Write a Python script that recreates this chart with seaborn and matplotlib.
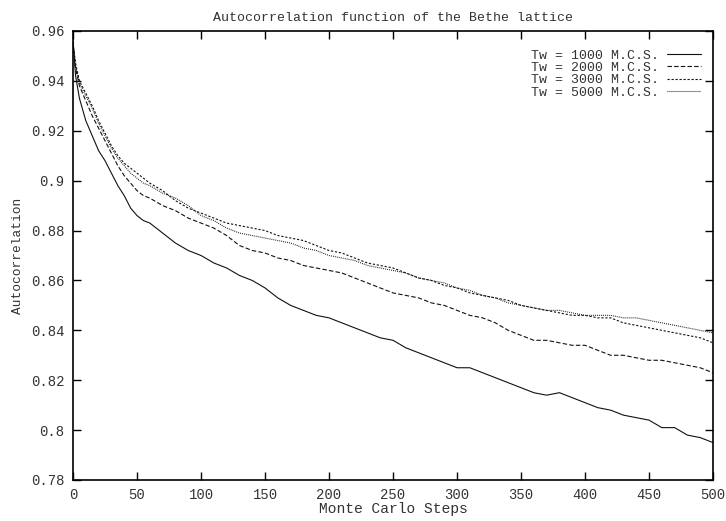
import matplotlib
matplotlib.use("Agg")
import matplotlib.pyplot as plt
import seaborn as sns
import pandas as pd
from matplotlib.ticker import FuncFormatter

steps = [0, 2, 5, 10, 15, 20, 25, 30, 35, 40, 45, 50, 55, 60, 70, 80, 90,
         100, 110, 120, 130, 140, 150, 160, 170, 180, 190, 200, 210, 220,
         230, 240, 250, 260, 270, 280, 290, 300, 310, 320, 330, 340, 350,
         360, 370, 380, 390, 400, 410, 420, 430, 440, 450, 460, 470, 480,
         490, 500]

tw1000 = [0.956, 0.942, 0.933, 0.924, 0.918, 0.912, 0.908, 0.903, 0.898,
          0.894, 0.889, 0.886, 0.884, 0.883, 0.879, 0.875, 0.872, 0.870,
          0.867, 0.865, 0.862, 0.860, 0.857, 0.853, 0.850, 0.848, 0.846,
          0.845, 0.843, 0.841, 0.839, 0.837, 0.836, 0.833, 0.831, 0.829,
          0.827, 0.825, 0.825, 0.823, 0.821, 0.819, 0.817, 0.815, 0.814,
          0.815, 0.813, 0.811, 0.809, 0.808, 0.806, 0.805, 0.804, 0.801,
          0.801, 0.798, 0.797, 0.795]

tw2000 = [0.955, 0.945, 0.938, 0.932, 0.926, 0.921, 0.916, 0.911, 0.906,
          0.902, 0.899, 0.896, 0.894, 0.893, 0.890, 0.888, 0.885, 0.883,
          0.881, 0.878, 0.874, 0.872, 0.871, 0.869, 0.868, 0.866, 0.865,
          0.864, 0.863, 0.861, 0.859, 0.857, 0.855, 0.854, 0.853, 0.851,
          0.850, 0.848, 0.846, 0.845, 0.843, 0.840, 0.838, 0.836, 0.836,
          0.835, 0.834, 0.834, 0.832, 0.830, 0.830, 0.829, 0.828, 0.828,
          0.827, 0.826, 0.825, 0.823]

tw3000 = [0.955, 0.947, 0.940, 0.935, 0.930, 0.924, 0.919, 0.914, 0.910,
          0.907, 0.905, 0.903, 0.901, 0.899, 0.896, 0.892, 0.889, 0.887,
          0.885, 0.883, 0.882, 0.881, 0.880, 0.878, 0.877, 0.876, 0.874,
          0.872, 0.871, 0.869, 0.867, 0.866, 0.865, 0.863, 0.861, 0.860,
          0.858, 0.857, 0.855, 0.854, 0.853, 0.852, 0.850, 0.849, 0.848,
          0.847, 0.846, 0.846, 0.845, 0.845, 0.843, 0.842, 0.841, 0.840,
          0.839, 0.838, 0.837, 0.835]

tw5000 = [0.955, 0.946, 0.939, 0.934, 0.929, 0.923, 0.918, 0.913, 0.909,
          0.906, 0.903, 0.901, 0.899, 0.898, 0.895, 0.893, 0.890, 0.886,
          0.884, 0.881, 0.879, 0.878, 0.877, 0.876, 0.875, 0.873, 0.872,
          0.870, 0.869, 0.868, 0.866, 0.865, 0.864, 0.863, 0.861, 0.860,
          0.859, 0.857, 0.856, 0.854, 0.853, 0.851, 0.850, 0.849, 0.848,
          0.848, 0.847, 0.846, 0.846, 0.846, 0.845, 0.845, 0.844, 0.843,
          0.842, 0.841, 0.840, 0.839]

labels = ["Tw = 1000 M.C.S.", "Tw = 2000 M.C.S.",
          "Tw = 3000 M.C.S.", "Tw = 5000 M.C.S."]
series = [tw1000, tw2000, tw3000, tw5000]
xticks = [0, 50, 100, 150, 200, 250, 300, 350, 400, 450, 500]
yticks = [0.78, 0.8, 0.82, 0.84, 0.86, 0.88, 0.9, 0.92, 0.94, 0.96]

sns.set_style("ticks")
plt.rcParams['font.family'] = ['Liberation Mono', 'DejaVu Sans Mono']
TXT = '#333333'

fig = plt.figure(figsize=(7.26, 5.21), dpi=100)
ax = fig.add_axes([0.1006, 0.0787, 0.8815, 0.8618])

styles = ['-', (0, (4, 2)), (0, (2, 1.6)), (0, (0.8, 1.0))]
for lab, vals, ls in zip(labels, series, styles):
    df = pd.DataFrame({"step": steps, "value": vals})
    sns.lineplot(data=df, x="step", y="value", ax=ax, color="#111111",
                 linewidth=0.8, linestyle=ls, label=lab)

ax.set_xlim(0, 500)
ax.set_ylim(0.78, 0.96)
ax.set_xticks(xticks)
ax.set_yticks(yticks)
ax.yaxis.set_major_formatter(FuncFormatter(lambda v, p: ('%g' % round(v, 4))))
ax.tick_params(direction='in', length=6, width=1, top=True, right=True,
               labelsize=10, colors='black', labelcolor=TXT, pad=6)
for s in ax.spines.values():
    s.set_linewidth(1.2)
    s.set_color('black')

ax.set_title("Autocorrelation function of the Bethe lattice", fontsize=9.5,
             pad=7, color=TXT)
ax.set_xlabel("Monte Carlo Steps", fontsize=10.5, labelpad=0, color=TXT)
ax.set_ylabel("Autocorrelation", fontsize=9.3, labelpad=5, color=TXT)

leg = ax.legend(loc='upper right', bbox_to_anchor=(1.0, 0.985),
                frameon=False, markerfirst=False,
                fontsize=9.5, labelspacing=0.0, handlelength=2.6,
                handletextpad=0.6, borderaxespad=0.5)
for t in leg.get_texts():
    t.set_color(TXT)

fig.savefig("out.png", dpi=100)
